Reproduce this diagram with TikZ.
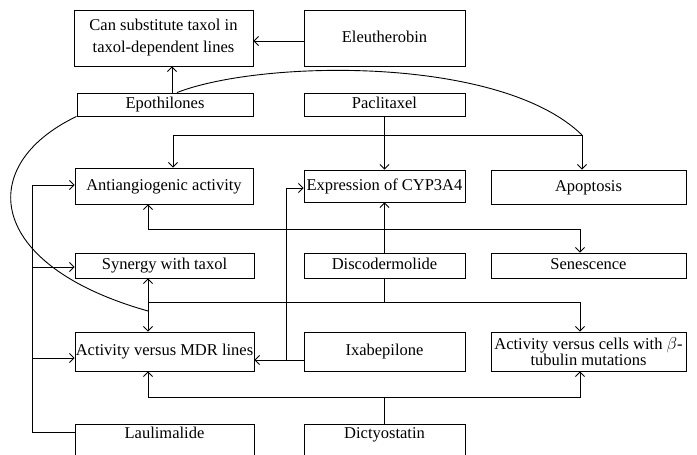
\documentclass[tikz,border=0pt]{standalone}
\usepackage{fontspec}
\setmainfont{Liberation Serif}
\usetikzlibrary{arrows.meta,calc}
\begin{document}
\begin{tikzpicture}[x=1pt,y=-1pt,
  box/.style={draw=black, line width=0.9pt, inner sep=0pt, font=\fontsize{16.5}{20}\selectfont},
  sbox/.style={box, text height=11.5pt, text depth=3.5pt},
  cutbox/.style={box, text height=11pt, text depth=23pt},
  conn/.style={line width=0.9pt},
  tip/.tip={Straight Barb[length=4.5pt,width=9pt,line width=0.9pt]},
  arr/.style={conn, -tip},
  darr/.style={conn, tip-tip}
]
\useasboundingbox (0,0) rectangle (697,455);
\fill[white] (0,0) rectangle (697,455);
\clip (0,0) rectangle (697,455);

% nodes
\node[box, minimum width=179pt, minimum height=56pt, align=center,
      font=\fontsize{16.5}{22}\selectfont] (sub) at (163.5,38) {Can substitute taxol in\\taxol-dependent lines};
\node[sbox, minimum width=161pt, minimum height=56pt] (eleu) at (384.5,38) {Eleutherobin};
\node[sbox, minimum width=176pt, minimum height=23pt] (epo) at (165,104.5) {Epothilones};
\node[sbox, minimum width=161pt, minimum height=23pt] (pac) at (384.5,104.5) {Paclitaxel};
\node[sbox, minimum width=178pt, minimum height=36pt] (anti) at (164,186) {Antiangiogenic activity};
\node[sbox, minimum width=161pt, minimum height=32pt] (cyp) at (384.5,186) {Expression of CYP3A4};
\node[sbox, minimum width=195pt, minimum height=34pt] (apo) at (588.5,187) {Apoptosis};
\node[sbox, minimum width=179pt, minimum height=25pt] (syn) at (164.5,265.5) {Synergy with taxol};
\node[sbox, minimum width=161pt, minimum height=25pt] (disc) at (384.5,265.5) {Discodermolide};
\node[sbox, minimum width=195pt, minimum height=25pt] (sen) at (588.5,265.5) {Senescence};
\node[sbox, minimum width=179pt, minimum height=39pt] (mdr) at (164.5,351.5) {Activity versus MDR lines};
\node[sbox, minimum width=161pt, minimum height=39pt] (ixa) at (384.5,351.5) {Ixabepilone};
\node[box, minimum width=195pt, minimum height=39pt, align=center,
      font=\fontsize{16.5}{16}\selectfont] (tub) at (588.5,351.5) {Activity versus cells with $\beta$-\\tubulin mutations};
\node[cutbox, minimum width=179pt, minimum height=40pt] (laul) at (164.5,444) {Laulimalide};
\node[cutbox, minimum width=161pt, minimum height=40pt] (dict) at (384.5,444) {Dictyostatin};

% junctions
\coordinate (jApo) at (582,135);
\coordinate (jPac) at (384.5,135);
\coordinate (jSyn) at (148,311);
\coordinate (jD1) at (384.5,229);
\coordinate (jD2) at (384.5,302);
\coordinate (jDi) at (384.5,397);

% Eleutherobin and Epothilones to "Can substitute"
\draw[arr] (eleu.west |- 0,41) -- (sub.east |- 0,41);
\draw[arr] (172,0 |- epo.north) -- (172,0 |- sub.south);

% Epothilones curves
\draw[conn] (177,0 |- epo.north) .. controls (260,60) and (500,55) .. (jApo);
\draw[conn] (epo.south west) .. controls (-25,165) and (-15,265) .. (jSyn);

% Paclitaxel
\draw[arr] (pac.south) -- (pac.south |- cyp.north);
\draw[arr] (jPac) -| (173,0 |- anti.north);
\draw[arr] (jPac) -| (jApo |- apo.north);

% Laulimalide bus
\draw[arr] (laul.west |- 0,432) -| (32,185) -- (anti.west |- 0,185);
\draw[arr] (32,267) -- (syn.west |- 0,267);
\draw[arr] (32,358) -- (mdr.west |- 0,358);

% Synergy <-> MDR
\draw[darr] (148,0 |- syn.south) -- (148,0 |- mdr.north);

% Ixabepilone
\draw[arr] (ixa.west |- 0,360) -- (mdr.east |- 0,360);
\draw[arr] (286,360) |- (cyp.west |- 0,188);

% Discodermolide
\draw[arr] (disc.north) -- (disc.north |- cyp.south);
\draw[arr] (jD1) -| (148,0 |- anti.south);
\draw[arr] (jD1) -| (580,0 |- sen.north);
\draw[conn] (disc.south) -- (jD2) -- (148,302);
\draw[arr] (jD2) -| (580,0 |- tub.north);

% Dictyostatin
\draw[conn] (dict.north) -- (jDi);
\draw[arr] (jDi) -| (148,0 |- mdr.south);
\draw[arr] (jDi) -| (580,0 |- tub.south);
\end{tikzpicture}
\end{document}
